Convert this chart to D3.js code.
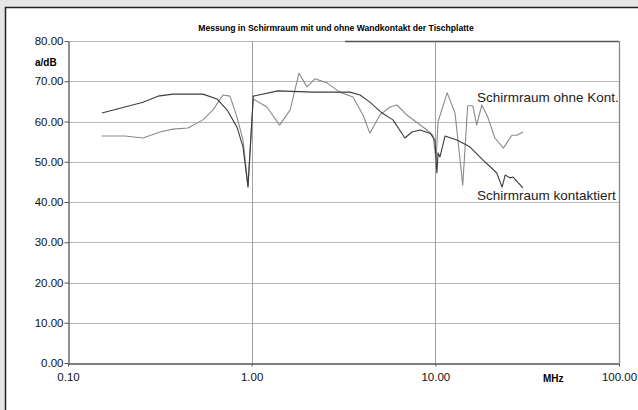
<!DOCTYPE html>
<html>
<head>
<meta charset="utf-8">
<script src="https://cdn.jsdelivr.net/npm/d3@7"></script>
<style>
  body { margin: 0; background: #e6e6e6; }
  svg { display: block; font-family: "Liberation Sans", Arial, sans-serif; }
</style>
</head>
<body>
<svg id="chart" width="638" height="410"></svg>
<script>
// Messung in Schirmraum - Schirmdaempfung ueber Frequenz

const yTicks = [0, 10, 20, 30, 40, 50, 60, 70, 80];
const xTicks = [0.1, 1, 10, 100];

// [MHz, dB]
const kontaktiert = [
  [0.153, 62.1], [0.256, 64.8], [0.309, 66.3], [0.373, 66.8], [0.543, 66.8],
  [0.647, 65.6], [0.734, 62.9], [0.832, 58.6], [0.897, 53.7], [0.955, 43.7],
  [1.02, 66.3], [1.39, 67.6], [2.16, 67.3], [3.43, 67.3], [3.89, 66.6],
  [4.40, 64.8], [5.13, 62.1], [5.88, 60.4], [6.83, 55.9], [7.46, 57.4],
  [8.24, 57.9], [9.35, 57.1], [9.95, 55.4], [10.2, 47.2], [10.35, 52.2],
  [10.6, 51.2], [11.3, 56.4], [13.1, 55.4], [15.4, 53.7], [18.2, 50.4],
  [21.6, 47.2], [23.1, 43.7], [24.0, 46.7], [25.5, 46.0], [26.5, 46.2],
  [30.0, 43.5]
];

const ohneKont = [
  [0.153, 56.4], [0.204, 56.4], [0.256, 55.9], [0.317, 57.4], [0.373, 58.1],
  [0.450, 58.4], [0.543, 60.4], [0.616, 62.9], [0.698, 66.6], [0.762, 66.3],
  [0.832, 61.1], [0.897, 55.4], [0.955, 44.0], [1.02, 65.6], [1.21, 63.6],
  [1.42, 59.1], [1.62, 62.9], [1.81, 72.0], [2.00, 68.6], [2.21, 70.6],
  [2.57, 69.6], [3.02, 67.3], [3.56, 66.1], [4.04, 61.6], [4.40, 57.1],
  [4.99, 61.6], [5.66, 63.6], [6.18, 64.1], [7.00, 61.6], [9.00, 57.9],
  [9.70, 56.6], [10.1, 50.5], [10.35, 60.0], [11.6, 67.1], [12.8, 62.1],
  [14.1, 44.2], [15.0, 63.9], [16.0, 63.9], [16.8, 59.1], [17.9, 64.1],
  [19.3, 61.1], [21.1, 55.9], [23.5, 53.4], [24.5, 54.7], [26.1, 56.6],
  [27.8, 56.6], [30.0, 57.4]
];

const svg = d3.select('#chart');

// white panel with dark frame
svg.append('rect')
  .attr('x', 5.5).attr('y', 7.5)
  .attr('width', 640).attr('height', 410)
  .attr('fill', '#ffffff')
  .attr('stroke', '#222').attr('stroke-width', 1.5);

const plotL = 68, plotR = 619, plotT = 41, plotB = 363;

const x = d3.scaleLog().domain([0.1, 100]).range([plotL, plotR]);
const y = d3.scaleLinear().domain([0, 80]).range([plotB, plotT]);

// grid
const grid = svg.append('g');
grid.selectAll('line.h')
  .data(yTicks.filter(d => d > 0))
  .enter().append('line')
  .attr('x1', plotL).attr('x2', plotR)
  .attr('y1', d => Math.round(y(d)) + 0.5).attr('y2', d => Math.round(y(d)) + 0.5)
  .attr('stroke', '#b8b8b8').attr('stroke-width', 1.2);
grid.selectAll('line.v')
  .data([1, 10])
  .enter().append('line')
  .attr('x1', d => Math.round(x(d)) + 0.5).attr('x2', d => Math.round(x(d)) + 0.5)
  .attr('y1', plotT).attr('y2', plotB)
  .attr('stroke', '#a0a0a0').attr('stroke-width', 1);

// dark part of top border
svg.append('line')
  .attr('x1', 345).attr('x2', plotR)
  .attr('y1', plotT + 0.5).attr('y2', plotT + 0.5)
  .attr('stroke', '#555').attr('stroke-width', 1.3);
// right border
svg.append('line')
  .attr('x1', plotR + 0.5).attr('x2', plotR + 0.5)
  .attr('y1', plotT).attr('y2', plotB)
  .attr('stroke', '#888').attr('stroke-width', 1.3);

// axes
const yAxis = svg.append('g')
  .attr('transform', `translate(${plotL + 0.5},0)`)
  .call(d3.axisLeft(y).tickValues(yTicks).tickFormat(d3.format('.2f')).tickSize(4).tickSizeOuter(0));
const xAxis = svg.append('g')
  .attr('transform', `translate(0,${plotB + 0.5})`)
  .call(d3.axisBottom(x).tickValues(xTicks).tickFormat(d3.format('.2f')).tickSize(3).tickSizeOuter(0));

[yAxis, xAxis].forEach(a => {
  a.select('.domain').attr('stroke', '#555').attr('stroke-width', 1.3);
  a.selectAll('.tick line').attr('stroke', '#555');
  a.selectAll('.tick text')
    .attr('fill', '#111')
    .style('font-family', '"Liberation Sans", Arial, sans-serif')
    .style('font-size', '11.5px');
});
yAxis.selectAll('.tick text').attr('x', -5);
xAxis.selectAll('.tick text').attr('y', 9);

// series
const line = d3.line().x(d => x(d[0])).y(d => y(d[1]));

svg.append('path')
  .datum(ohneKont)
  .attr('d', line)
  .attr('fill', 'none')
  .attr('stroke', '#8a8a8a')
  .attr('stroke-width', 1.1)
  .attr('stroke-linejoin', 'round');

svg.append('path')
  .datum(kontaktiert)
  .attr('d', line)
  .attr('fill', 'none')
  .attr('stroke', '#3c3c3c')
  .attr('stroke-width', 1.1)
  .attr('stroke-linejoin', 'round');

// texts
svg.append('text')
  .attr('x', 336).attr('y', 31)
  .attr('text-anchor', 'middle')
  .style('font-size', '8.6px').style('font-weight', 'bold')
  .text('Messung in Schirmraum mit und ohne Wandkontakt der Tischplatte');

svg.append('text')
  .attr('x', 35).attr('y', 66)
  .style('font-size', '10px').style('font-weight', 'bold')
  .text('a/dB');

svg.append('text')
  .attr('x', 543).attr('y', 382)
  .style('font-size', '10px').style('font-weight', 'bold')
  .text('MHz');

svg.append('text')
  .attr('x', 477).attr('y', 102)
  .style('font-size', '13.5px').attr('fill', '#222')
  .text('Schirmraum ohne Kont.');

svg.append('text')
  .attr('x', 477).attr('y', 200)
  .style('font-size', '13.5px').attr('fill', '#222')
  .text('Schirmraum kontaktiert');
</script>
</body>
</html>
